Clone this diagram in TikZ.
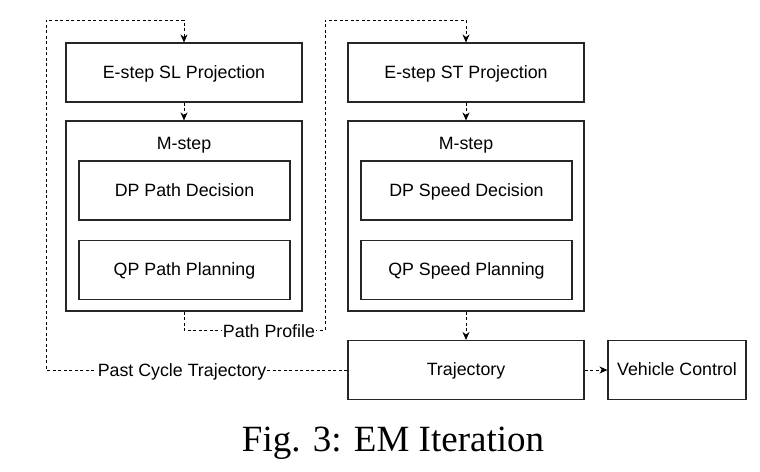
\documentclass[tikz,border=0pt]{standalone}
\usepackage{fontspec}
\setmainfont{Liberation Sans}
\newfontfamily\capfont{Liberation Serif}
\usetikzlibrary{arrows.meta}
\begin{document}
\begin{tikzpicture}[x=1pt,y=-1pt,
  txt/.style={font=\fontsize{17.8}{20}\selectfont},
  box/.style={txt,draw=black!85,line width=1.1pt,minimum width=236pt,minimum height=59pt,inner sep=0pt,text height=11pt,text depth=0pt},
  inbox/.style={box,minimum width=211pt},
  outbox/.style={draw=black!85,line width=1.1pt,minimum width=236pt,minimum height=190pt,inner sep=0pt},
  lbl/.style={txt,fill=white,inner sep=1pt},
  conn/.style={line width=0.8pt,dash pattern=on 3pt off 2.5pt},
  arr/.style={conn,-{Stealth[length=8pt,width=7pt]}}
]
\useasboundingbox (0,0) rectangle (760,471);
% left column
\node[box] (esl) at (184,72.5) {E-step SL Projection};
\node[outbox] (msl) at (184,216) {};
\node[txt,text height=11pt,text depth=0pt] (mslt) at (184,144) {M-step};
\node[inbox] (dpp) at (184.5,190.5) {DP Path Decision};
\node[inbox] (qpp) at (184.5,270) {QP Path Planning};
% right column
\node[box] (est) at (466,72.5) {E-step ST Projection};
\node[outbox] (mst) at (466,216) {};
\node[txt,text height=11pt,text depth=0pt] (mstt) at (466,144) {M-step};
\node[inbox] (dps) at (466.5,190.5) {DP Speed Decision};
\node[inbox] (qps) at (466.5,270) {QP Speed Planning};
% bottom
\node[box] (traj) at (466,370) {Trajectory};
\node[box,minimum width=138pt] (veh) at (677,370) {Vehicle Control};
% coordinates
\coordinate (l1) at (46,370);
\coordinate (l2) at (46,20);
\coordinate (l3) at (184,20);
\coordinate (p1) at (184,330);
\coordinate (p2) at (325,330);
\coordinate (p3) at (325,20);
\coordinate (p4) at (466,20);
% connectors
\draw[arr] (esl.south) -- (msl.north);
\draw[arr] (est.south) -- (mst.north);
\draw[arr] (mst.south) -- (traj.north);
\draw[arr] (traj.east) -- (veh.west);
\draw[arr] (traj.west) -- (l1) -- (l2) -- (l3) -- (esl.north);
\draw[arr] (msl.south) -- (p1) -- (p2) -- (p3) -- (p4) -- (est.north);
\node[lbl] (pastlbl) at (182,372) {Past Cycle Trajectory};
\node[lbl] (pathlbl) at (269,331) {Path Profile};
% caption
\node[font=\capfont\fontsize{37}{42}\selectfont] (cap) at (393,443) {Fig. 3: EM Iteration};
\end{tikzpicture}
\end{document}
